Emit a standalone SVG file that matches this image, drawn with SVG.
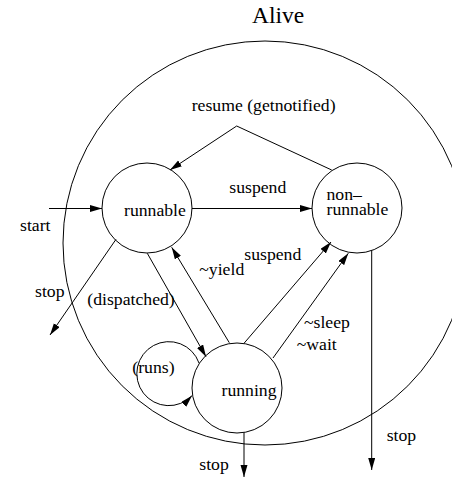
<svg xmlns="http://www.w3.org/2000/svg" width="452" height="478" viewBox="0 0 452 478">
<defs>
<marker id="ah" markerUnits="userSpaceOnUse" markerWidth="13" markerHeight="8" refX="12" refY="3.5" orient="auto">
<path d="M0,0 L12,3.5 L0,7 z" fill="#000"/>
</marker>
<style>
.st{fill:none;stroke:#000;stroke-width:1}
.ar{fill:none;stroke:#000;stroke-width:1;marker-end:url(#ah)}
text{font-family:"Liberation Serif","Times New Roman",serif;font-size:17.7px;fill:#000}
</style>
</defs>
<rect width="452" height="478" fill="#fff"/>
<g id="alive">
<circle class="st" cx="265" cy="243" r="202"/>
<text x="252" y="23" style="font-size:23.5px">Alive</text>
</g>
<g id="runnable">
<circle class="st" cx="147" cy="208" r="45"/>
<text x="124" y="215.5">runnable</text>
</g>
<g id="non-runnable">
<circle class="st" cx="357" cy="208" r="45"/>
<text x="326.5" y="200">non–</text>
<text x="326.5" y="215">runnable</text>
</g>
<g id="running">
<circle class="st" cx="237" cy="388" r="45"/>
<text x="221.5" y="395.5">running</text>
</g>
<g id="connectors">
<path class="ar" d="M49,208.5 L102,208.5"/>
<path class="ar" d="M192,208.5 L312,208.5"/>
<path class="ar" d="M331.7,170 L236.7,126 L170,170"/>
<path class="ar" d="M116,239.3 L50,335"/>
<path class="ar" d="M147.3,253.3 L206,356.7"/>
<path class="ar" d="M229.3,342.7 L171.7,247.3"/>
<path class="ar" d="M244,343.3 L331,242"/>
<path class="ar" d="M273,358 L348.3,253.3"/>
<path class="ar" d="M371.7,250.5 L371.7,470"/>
<path class="ar" d="M244,432.5 L244,477"/>
<path class="ar" d="M199,363 A32,32 0 1 0 192,395.7"/>
</g>
<g id="labels">
<text x="191.7" y="110.5">resume (getnotified)</text>
<text x="229.3" y="193.3">suspend</text>
<text x="20" y="230.7">start</text>
<text x="244.3" y="260">suspend</text>
<text x="199.3" y="275">~yield</text>
<text x="35" y="297.3">stop</text>
<text x="87.3" y="305">(dispatched)</text>
<text x="304" y="328.3">~sleep</text>
<text x="296.7" y="350">~wait</text>
<text x="132.3" y="372.7">(runs)</text>
<text x="199.3" y="470">stop</text>
<text x="386.7" y="440.7">stop</text>
</g>
</svg>
